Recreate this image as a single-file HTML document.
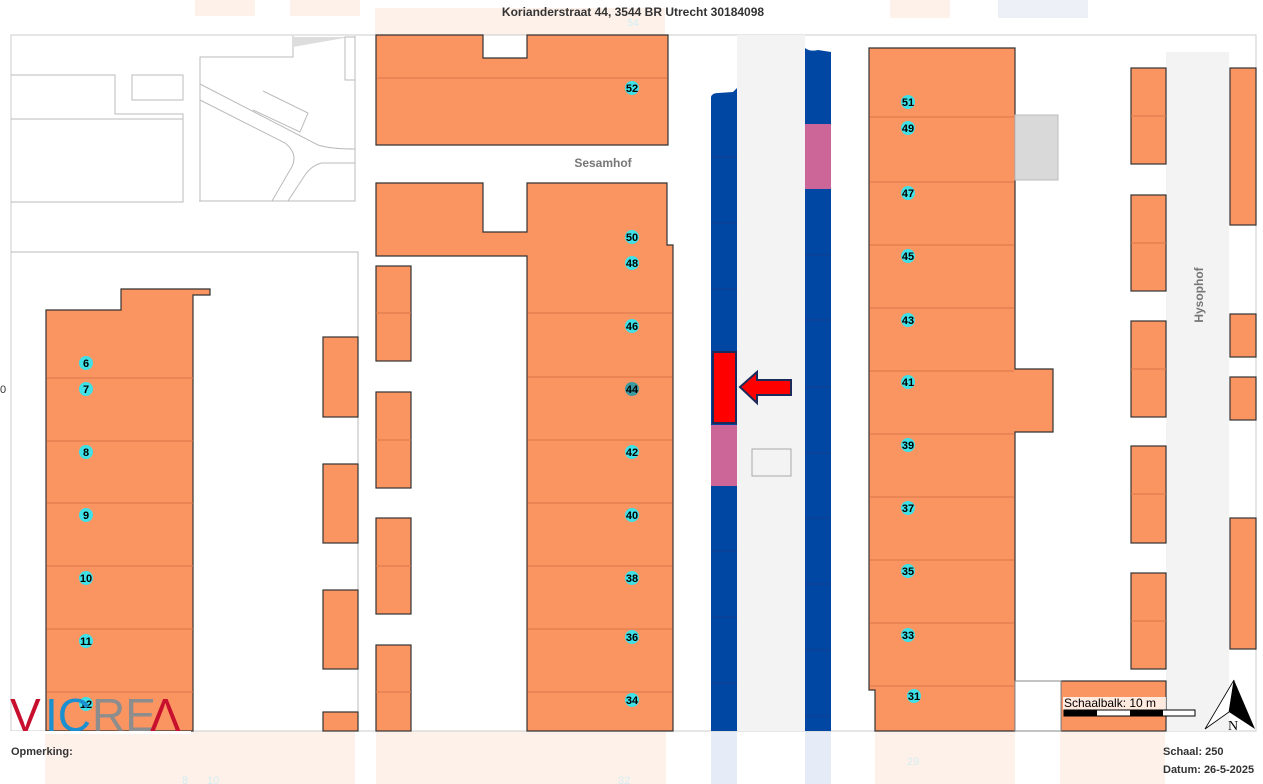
<!DOCTYPE html>
<html><head><meta charset="utf-8"><style>
html,body{margin:0;padding:0;background:#fff;width:1263px;height:784px;overflow:hidden;font-family:"Liberation Sans",sans-serif}
svg{position:absolute;left:0;top:0}
</style></head><body>
<svg width="1263" height="784" viewBox="0 0 1263 784" font-family="Liberation Sans, sans-serif">
<!-- faint outside -->
<g fill="#fdf1ea">
<rect x="195" y="0" width="60" height="16"/><rect x="290" y="0" width="70" height="16"/>
<rect x="375" y="8" width="290" height="27"/><rect x="890" y="0" width="60" height="18"/>
<rect x="998" y="0" width="90" height="18" fill="#eef0f8"/>
<rect x="45" y="731" width="310" height="53"/><rect x="376" y="731" width="290" height="53"/>
<rect x="875" y="731" width="140" height="53"/><rect x="1060" y="731" width="105" height="53"/>
</g>
<rect x="711" y="731" width="26" height="53" fill="#e6ecf7"/><rect x="805" y="731" width="26" height="53" fill="#e6ecf7"/>
<text x="633" y="16" font-size="12" font-weight="bold" fill="#333" text-anchor="middle">Korianderstraat 44, 3544 BR Utrecht 30184098</text>
<text x="633" y="26" font-size="10" fill="#cfeff5" text-anchor="middle">54</text>

<!-- frame -->
<rect x="11" y="35" width="1245" height="696" fill="#fff" stroke="#ccc"/>
<!-- roads -->
<rect x="737" y="35" width="68" height="696" fill="#f3f3f3"/>
<rect x="1166" y="52" width="63" height="679" fill="#f3f3f3"/>
<!-- top-left outlines -->
<g fill="none" stroke="#bbb" stroke-width="1">
<path d="M11 75 H115 V114 H183 V202 H11"/>
<path d="M11 119 H183"/>
<rect x="132" y="75" width="51" height="25"/>
<path d="M200 201 V57 H293 V36"/>
<path d="M199 201 H355 V36"/>
<path d="M11 252 H358 V731"/>
<path d="M200 84 L318 145 Q330 149 355 149"/>
<path d="M200 100 L285 143 Q300 155 290 170 L272 201"/>
<path d="M355 163 H322 Q312 165 305 175 L288 201"/>
<path d="M263 91 L308 113 L300 132 L253 110"/>
</g>
<path d="M293 37 H350 L293 47 Z" fill="#ddd"/>
<rect x="345" y="37" width="10" height="43" fill="#fff" stroke="#bbb"/>
<text x="603" y="167" font-size="12" font-weight="bold" fill="#777" text-anchor="middle">Sesamhof</text>

<g fill="#fa9562" stroke="#333" stroke-width="1.2">
<path d="M46 310 H121 V289 H210 V295 H193 V731 H46 Z"/>
<rect x="323" y="337" width="35" height="80"/><rect x="323" y="464" width="35" height="79"/>
<rect x="323" y="590" width="35" height="79"/><rect x="323" y="712" width="35" height="19"/>
<rect x="376" y="266" width="35" height="95"/><rect x="376" y="392" width="35" height="96"/>
<rect x="376" y="518" width="35" height="96"/><rect x="376" y="645" width="35" height="86"/>
<path d="M376 35 H483 V58 H527 V35 H668 V145 H376 Z"/>
<path d="M376 183 H483 V232 H527 V183 H667 V245 H673 V731 H527 V256 H376 Z"/>
<path d="M869 48 H1015 V369 H1053 V432 H1015 V731 H875 V690 H869 Z"/>
<rect x="1131" y="68" width="35" height="96"/><rect x="1131" y="195" width="35" height="96"/>
<rect x="1131" y="321" width="35" height="96"/><rect x="1131" y="446" width="35" height="97"/>
<rect x="1131" y="573" width="35" height="96"/>
<rect x="1230" y="68" width="26" height="157"/><rect x="1230" y="314" width="26" height="43"/>
<rect x="1230" y="377" width="26" height="43"/><rect x="1230" y="518" width="26" height="131"/>
<rect x="1061" y="681" width="105" height="50"/>
</g>
<rect x="1015" y="681" width="46" height="50" fill="#fff" stroke="#888"/>
<rect x="1015" y="115" width="43" height="65" fill="#d9d9d9" stroke="#bbb"/>
<g stroke="#d9784a" stroke-width="1">
<path d="M47 378H193M47 441H193M47 503H193M47 566H193M47 629H193M47 692H193"/>
<path d="M377 78H667M528 313H672M528 377H672M528 440H672M528 503H672M528 566H672M528 629H672M528 692H672"/>
<path d="M870 117H1014M870 182H1014M870 245H1014M870 308H1014M870 371H1014M870 434H1014M870 497H1014M870 560H1014M870 623H1014M870 686H1014"/>
<path d="M1131 116H1166M1131 243H1166M1131 369H1166M1131 494H1166M1131 621H1166M376 313H411M376 440H411M376 566H411M376 692H411"/>
</g>
<text x="1203" y="295" font-size="12" font-weight="bold" fill="#777" text-anchor="middle" transform="rotate(-90 1203 295)">Hysophof</text>

<!-- parking -->
<path d="M711 97 Q712 93 718 93 L733 92 L737 88 V731 H711 Z" fill="#0047a3"/>
<rect x="711" y="425" width="26" height="61" fill="#cc6699"/>
<path d="M805 48 Q810 52 818 50 L831 52 V731 H805 Z" fill="#0047a3"/>
<rect x="805" y="124" width="26" height="65" fill="#cc6699"/>
<g stroke="#1d3a8a" stroke-width="0.8"><path d="M711 157H737M711 223H737M711 289H737M711 352H737M711 551H737M711 617H737M711 683H737M805 255H831M805 320H831M805 387H831M805 453H831M805 518H831M805 584H831M805 650H831M805 716H831"/></g>
<rect x="752" y="449" width="39" height="27" fill="none" stroke="#aaa"/>
<rect x="713" y="352" width="23" height="71" fill="#f00" stroke="#1b2a5a" stroke-width="2"/>
<path d="M740 387 L757 372 V380 H791 V395 H757 V403 Z" fill="#f00" stroke="#1b2a5a" stroke-width="2"/>

<!-- labels -->
<g font-size="11" font-weight="bold" text-anchor="middle" fill="#000">
<g fill="#3fe0e6">
<circle cx="86" cy="363" r="7"/><circle cx="86" cy="389" r="7"/><circle cx="86" cy="452" r="7"/><circle cx="86" cy="515" r="7"/><circle cx="86" cy="578" r="7"/><circle cx="86" cy="641" r="7"/><circle cx="86" cy="704" r="7"/>
<circle cx="632" cy="88" r="7"/><circle cx="632" cy="237" r="7"/><circle cx="632" cy="263" r="7"/><circle cx="632" cy="326" r="7"/><circle cx="632" cy="389" r="7" fill="#3a9aa0"/><circle cx="632" cy="452" r="7"/><circle cx="632" cy="515" r="7"/><circle cx="632" cy="578" r="7"/><circle cx="632" cy="637" r="7"/><circle cx="632" cy="700" r="7"/>
<circle cx="908" cy="102" r="7"/><circle cx="908" cy="128" r="7"/><circle cx="908" cy="193" r="7"/><circle cx="908" cy="256" r="7"/><circle cx="908" cy="320" r="7"/><circle cx="908" cy="382" r="7"/><circle cx="908" cy="445" r="7"/><circle cx="908" cy="508" r="7"/><circle cx="908" cy="571" r="7"/><circle cx="908" cy="635" r="7"/><circle cx="914" cy="696" r="7"/>
</g>
<text x="86" y="367">6</text><text x="86" y="393">7</text><text x="86" y="456">8</text><text x="86" y="519">9</text><text x="86" y="582">10</text><text x="86" y="645">11</text><text x="86" y="708">12</text>
<text x="632" y="92">52</text><text x="632" y="241">50</text><text x="632" y="267">48</text><text x="632" y="330">46</text><text x="632" y="393">44</text><text x="632" y="456">42</text><text x="632" y="519">40</text><text x="632" y="582">38</text><text x="632" y="641">36</text><text x="632" y="704">34</text>
<text x="908" y="106">51</text><text x="908" y="132">49</text><text x="908" y="197">47</text><text x="908" y="260">45</text><text x="908" y="324">43</text><text x="908" y="386">41</text><text x="908" y="449">39</text><text x="908" y="512">37</text><text x="908" y="575">35</text><text x="908" y="639">33</text><text x="914" y="700">31</text>
</g>
<text x="0" y="393" font-size="11" fill="#333">0</text>

<!-- logo -->
<g font-size="46" font-family="Liberation Sans, sans-serif">
<text x="10" y="731" fill="#c8102e">V</text>
<text x="45" y="731" fill="#1b8fd0">IC</text>
<text x="92" y="731" fill="#8d8d8d">RE</text>
<text x="150" y="731" fill="#c8102e">Λ</text>
</g>
<rect x="11" y="731" width="180" height="3" fill="#fff"/>

<!-- scale bar -->
<rect x="1063" y="697" width="103" height="13" fill="#fff" opacity="0.8"/>
<text x="1064" y="707" font-size="12" fill="#000">Schaalbalk: 10 m</text>
<rect x="1064" y="710" width="131" height="6" fill="#fff" stroke="#000"/>
<rect x="1064" y="710" width="33" height="6" fill="#000"/><rect x="1130" y="710" width="33" height="6" fill="#000"/>
<path d="M1234 680 L1205 729 L1229 712 Z" fill="#fff" stroke="#000" stroke-width="0.8"/>
<path d="M1234 680 L1255 729 L1229 712 Z" fill="#000"/>
<text x="1233" y="730" font-family="Liberation Serif, serif" font-size="14" fill="#000" text-anchor="middle">N</text>

<text x="11" y="755" font-size="11" font-weight="bold" fill="#333">Opmerking:</text>
<text x="1163" y="755" font-size="11" font-weight="bold" fill="#333">Schaal: 250</text>
<text x="1163" y="773" font-size="11" font-weight="bold" fill="#333">Datum: 26-5-2025</text>
<g font-size="11" fill="#d5eef2"><text x="182" y="784">8</text><text x="207" y="784">10</text><text x="618" y="784">32</text><text x="907" y="765">29</text></g>
</svg>
</body></html>
